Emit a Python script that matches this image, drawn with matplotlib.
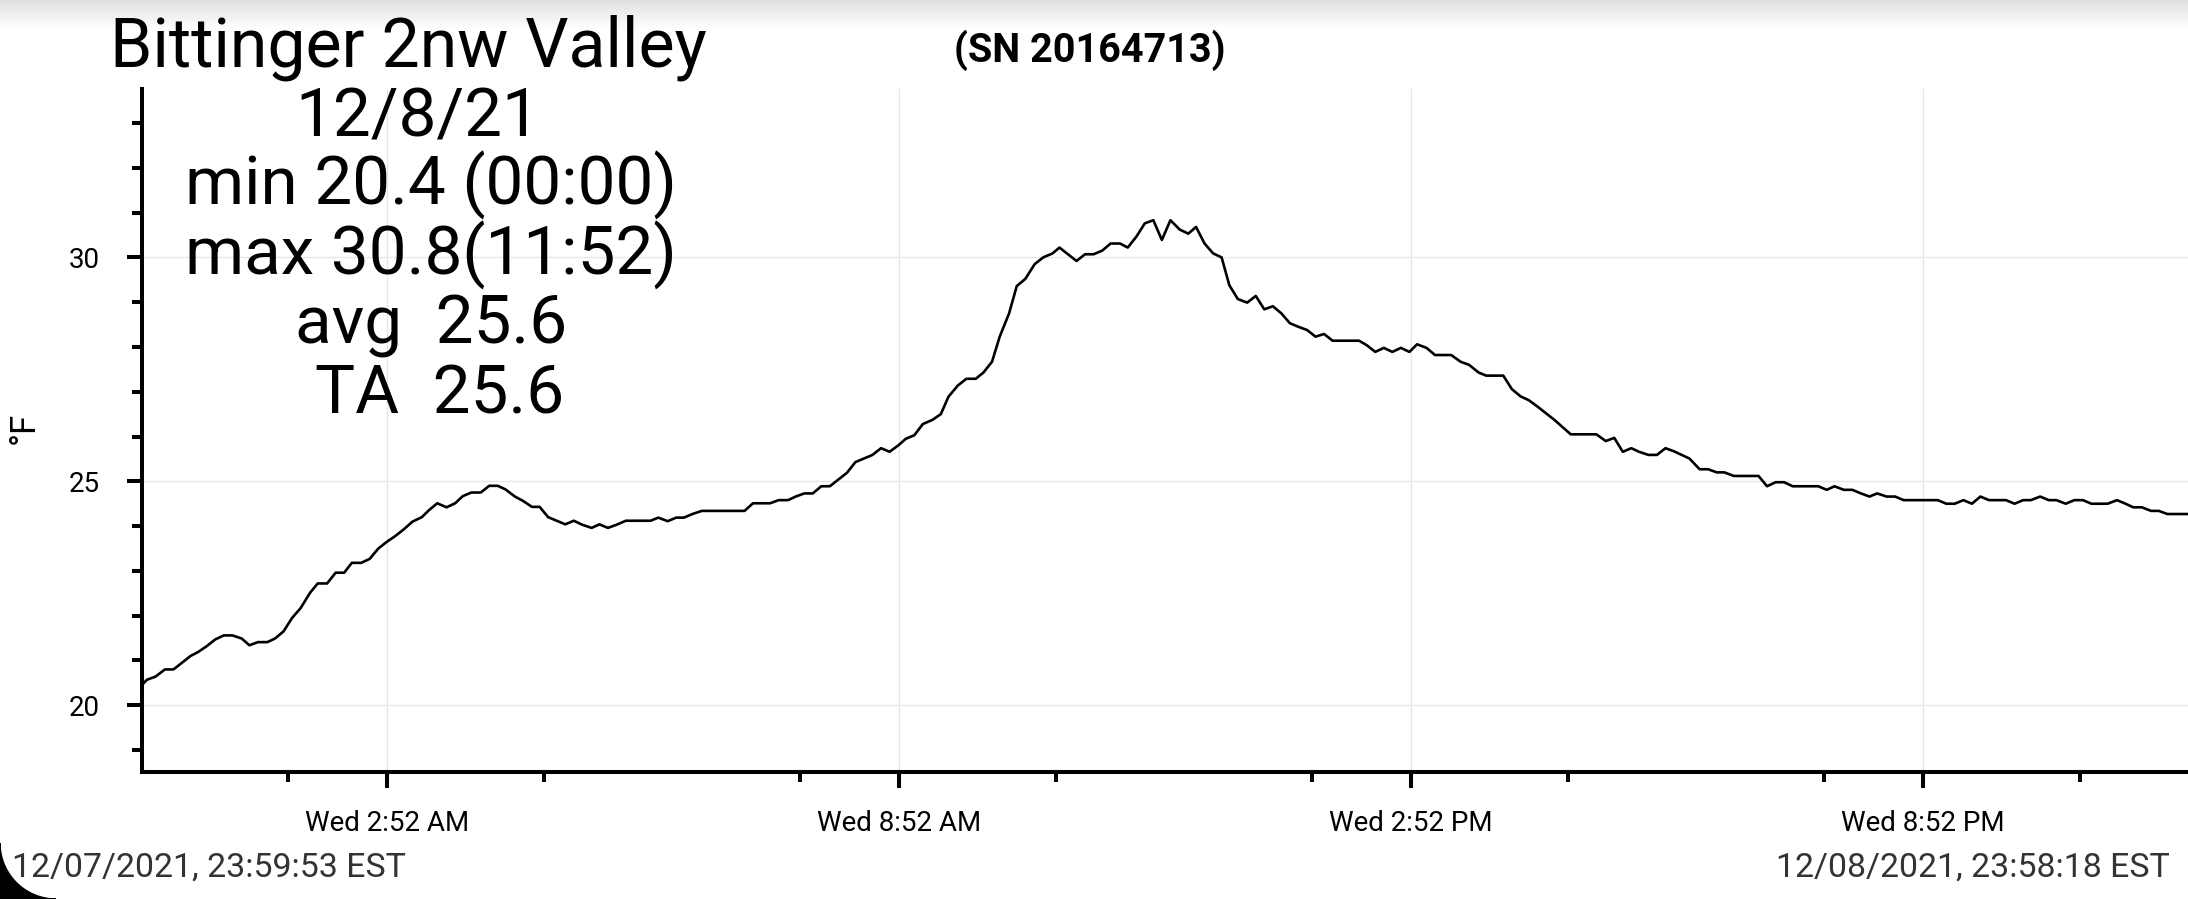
import numpy as np
import matplotlib
matplotlib.use("Agg")
import matplotlib.pyplot as plt
from matplotlib.patches import Polygon

plt.rcParams['font.family'] = ['Roboto', 'DejaVu Sans']

# readings, hours after midnight 12/08/21, temperature in F
hours = [0.00, 0.06, 0.16, 0.27, 0.37, 0.47, 0.57, 0.66, 0.76, 0.86,
         0.96, 1.06, 1.17, 1.26, 1.36, 1.47, 1.56, 1.66, 1.76, 1.86,
         1.97, 2.06, 2.17, 2.27, 2.37, 2.46, 2.57, 2.67, 2.77, 2.87,
         2.97, 3.07, 3.17, 3.28, 3.36, 3.46, 3.57, 3.67, 3.76, 3.86,
         3.97, 4.07, 4.17, 4.26, 4.37, 4.46, 4.57, 4.66, 4.76, 4.86,
         4.96, 5.06, 5.16, 5.27, 5.36, 5.46, 5.56, 5.67, 5.77, 5.86,
         5.96, 6.05, 6.16, 6.26, 6.35, 6.45, 6.56, 6.67, 6.76, 6.86,
         6.96, 7.06, 7.16, 7.25, 7.36, 7.46, 7.57, 7.66, 7.76, 7.86,
         7.96, 8.06, 8.16, 8.26, 8.36, 8.46, 8.56, 8.66, 8.76, 8.86,
         8.95, 9.05, 9.15, 9.26, 9.36, 9.45, 9.56, 9.66, 9.77, 9.86,
         9.96, 10.05, 10.16, 10.25, 10.35, 10.46, 10.56, 10.67, 10.75, 10.85,
         10.95, 11.05, 11.15, 11.25, 11.35, 11.46, 11.55, 11.65, 11.75, 11.85,
         11.95, 12.05, 12.16, 12.26, 12.35, 12.45, 12.55, 12.65, 12.74, 12.84,
         12.95, 13.05, 13.15, 13.25, 13.35, 13.45, 13.55, 13.65, 13.75, 13.85,
         13.95, 14.05, 14.15, 14.26, 14.35, 14.45, 14.55, 14.65, 14.75, 14.85,
         14.94, 15.05, 15.15, 15.25, 15.34, 15.45, 15.55, 15.66, 15.75, 15.85,
         15.95, 16.05, 16.15, 16.25, 16.35, 16.45, 16.55, 16.65, 16.74, 16.85,
         16.95, 17.04, 17.15, 17.25, 17.35, 17.45, 17.54, 17.65, 17.75, 17.85,
         17.95, 18.03, 18.13, 18.25, 18.35, 18.45, 18.54, 18.65, 18.75, 18.85,
         18.94, 19.04, 19.14, 19.24, 19.34, 19.44, 19.54, 19.64, 19.74, 19.83,
         19.94, 20.04, 20.14, 20.24, 20.33, 20.44, 20.54, 20.64, 20.74, 20.84,
         20.94, 21.04, 21.14, 21.24, 21.34, 21.44, 21.54, 21.64, 21.74, 21.84,
         21.94, 22.04, 22.13, 22.24, 22.34, 22.43, 22.54, 22.64, 22.74, 22.84,
         22.93, 23.03, 23.14, 23.24, 23.33, 23.43, 23.54, 23.63, 23.73, 23.83,
         23.96]
temp_f = [20.45, 20.57, 20.64, 20.80, 20.80, 20.95, 21.10, 21.19, 21.32, 21.47,
          21.56, 21.56, 21.49, 21.34, 21.41, 21.41, 21.49, 21.65, 21.95, 22.17,
          22.51, 22.72, 22.72, 22.96, 22.96, 23.18, 23.18, 23.27, 23.50, 23.65,
          23.78, 23.93, 24.10, 24.20, 24.35, 24.51, 24.42, 24.51, 24.67, 24.75,
          24.75, 24.90, 24.90, 24.82, 24.66, 24.57, 24.43, 24.43, 24.20, 24.12,
          24.04, 24.12, 24.03, 23.96, 24.04, 23.96, 24.03, 24.12, 24.12, 24.12,
          24.12, 24.19, 24.11, 24.19, 24.19, 24.27, 24.34, 24.34, 24.34, 24.34,
          24.34, 24.34, 24.51, 24.51, 24.51, 24.58, 24.58, 24.66, 24.73, 24.73,
          24.89, 24.89, 25.04, 25.19, 25.43, 25.51, 25.59, 25.74, 25.66, 25.80,
          25.95, 26.03, 26.28, 26.37, 26.50, 26.89, 27.14, 27.29, 27.29, 27.43,
          27.67, 28.23, 28.75, 29.36, 29.52, 29.85, 30.00, 30.09, 30.22, 30.07,
          29.92, 30.07, 30.07, 30.15, 30.31, 30.31, 30.22, 30.46, 30.76, 30.83,
          30.39, 30.83, 30.62, 30.53, 30.68, 30.31, 30.09, 30.00, 29.38, 29.07,
          28.99, 29.14, 28.84, 28.91, 28.75, 28.53, 28.45, 28.38, 28.23, 28.29,
          28.14, 28.14, 28.14, 28.14, 28.04, 27.89, 27.98, 27.89, 27.98, 27.89,
          28.06, 27.98, 27.82, 27.82, 27.82, 27.67, 27.60, 27.43, 27.36, 27.36,
          27.36, 27.06, 26.90, 26.81, 26.67, 26.52, 26.37, 26.20, 26.05, 26.05,
          26.05, 26.05, 25.90, 25.97, 25.66, 25.74, 25.66, 25.59, 25.59, 25.74,
          25.67, 25.60, 25.51, 25.27, 25.27, 25.20, 25.20, 25.12, 25.12, 25.12,
          25.12, 24.89, 24.98, 24.98, 24.89, 24.89, 24.89, 24.89, 24.81, 24.89,
          24.81, 24.81, 24.73, 24.66, 24.73, 24.66, 24.66, 24.58, 24.58, 24.58,
          24.58, 24.58, 24.50, 24.50, 24.58, 24.50, 24.66, 24.58, 24.58, 24.58,
          24.50, 24.58, 24.58, 24.66, 24.58, 24.58, 24.50, 24.58, 24.58, 24.50,
          24.50, 24.50, 24.58, 24.50, 24.42, 24.42, 24.34, 24.34, 24.27, 24.27,
          24.27]

x_start = -7 / 3600.0          # 12/07 23:59:53
x_end = 23 + 58 / 60 + 18 / 3600.0  # 12/08 23:58:18
major_x = [2.867, 8.867, 14.867, 20.867]
major_x_labels = ["Wed 2:52 AM", "Wed 8:52 AM", "Wed 2:52 PM", "Wed 8:52 PM"]
minor_x = [1.71, 4.71, 7.71, 10.71, 13.71, 16.71, 19.71, 22.71]
major_y = [20, 25, 30]
minor_y = [19, 21, 22, 23, 24, 26, 27, 28, 29, 31, 32, 33]

title = "Bittinger 2nw Valley"
serial = "(SN 20164713)"
stats_lines = ["12/8/21", "min 20.4 (00:00)", "max 30.8(11:52)", "avg  25.6", "TA  25.6"]
start_label = "12/07/2021, 23:59:53 EST"
end_label = "12/08/2021, 23:58:18 EST"

W, H = 2188, 899
fig = plt.figure(figsize=(W / 100, H / 100), dpi=100)


def fx(px):
    return px / W


def fy(py):
    return 1 - py / H


# screenshot shadow at the top
top = fig.add_axes([0, fy(30), 1, 30 / H], zorder=-5)
grad = np.linspace(0.80, 1.0, 60) ** 0.6
grad = grad / grad.max()
top.imshow(np.tile(grad[:, None], (1, 10)), cmap='gray', vmin=0, vmax=1, aspect='auto')
top.axis('off')

ax = fig.add_axes([fx(141.7), fy(772), fx(W) - fx(141.7), fy(89) - fy(772)])
ax.plot(hours, temp_f, color='black', lw=1.9)
ax.set_xlim(x_start, x_end)
ax.set_ylim(18.51, 33.76)

ax.set_xticks(major_x)
ax.set_xticklabels(major_x_labels)
ax.set_xticks(minor_x, minor=True)
ax.set_yticks(major_y)
ax.set_yticks(minor_y, minor=True)

for s in ['top', 'right']:
    ax.spines[s].set_visible(False)
for s in ['left', 'bottom']:
    ax.spines[s].set_linewidth(2.9)

ax.tick_params(axis='x', which='major', length=11.5, width=2.9, pad=16, labelsize=20)
ax.tick_params(axis='x', which='minor', length=7, width=2.9)
ax.tick_params(axis='y', which='major', length=11, width=2.9, pad=19, labelsize=20)
ax.tick_params(axis='y', which='minor', length=7, width=2.9)
ax.grid(which='major', color='#e6e6e6', lw=0.9)
ax.set_axisbelow(True)

fig.text(fx(24), fy(428), "°F", rotation=90, fontsize=25, ha='center', va='center')

fig.text(fx(110), fy(66.7), title, fontsize=49, ha='left', va='baseline')
fig.text(fx(1090), fy(61.7), serial, fontsize=28.5, fontweight='bold', ha='center', va='baseline')

stats_x = [418, 431, 431, 431, 440]
stats_base = [136, 205, 275, 344, 413]
for txt, sx, sy in zip(stats_lines, stats_x, stats_base):
    fig.text(fx(sx), fy(sy), txt, fontsize=48.5, ha='center', va='baseline')

fig.text(fx(12), fy(877), start_label, fontsize=24.4, color='#333333', ha='left', va='baseline')
fig.text(fx(2170), fy(877), end_label, fontsize=24.4, color='#333333', ha='right', va='baseline')

# rounded screen corner, bottom left
R = 56
t = np.linspace(np.pi, 1.5 * np.pi, 40)
pts = [(0, 0)] + [((R + R * np.cos(a)) / W, (R + R * np.sin(a)) / H) for a in t]
fig.patches.append(Polygon(pts, closed=True, color='black', transform=fig.transFigure, figure=fig))

fig.savefig('out.png', dpi=100)
